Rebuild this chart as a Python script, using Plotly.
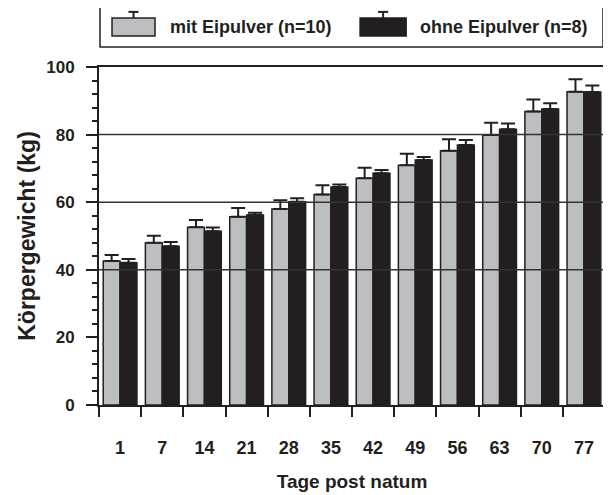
import plotly.graph_objects as go

# ---- data ----
days = ["1", "7", "14", "21", "28", "35", "42", "49", "56", "63", "70", "77"]
series_names = ["mit Eipulver (n=10)", "ohne Eipulver (n=8)"]
mit_mean = [42.6, 48.0, 52.6, 55.7, 58.0, 62.3, 67.1, 70.9, 75.2, 79.9, 86.8, 92.7]
mit_sd = [1.8, 2.1, 2.1, 2.6, 2.6, 2.7, 3.1, 3.4, 3.4, 3.6, 3.6, 3.7]
ohne_mean = [42.1, 47.0, 51.4, 56.2, 60.1, 64.5, 68.6, 72.5, 76.9, 81.6, 87.6, 92.6]
ohne_sd = [1.1, 1.2, 1.1, 0.7, 1.1, 0.7, 0.9, 0.9, 1.5, 1.7, 1.7, 1.9]
grid_values = [40, 60, 80]
x_title = "Tage post natum"
y_title = "Körpergewicht (kg)"

GRAY = "#BDBEC2"
DARK = "#231F20"
FONT = "Liberation Sans, Arial, sans-serif"

fig = go.Figure()
for name, mean, sd, color in [
    (series_names[0], mit_mean, mit_sd, GRAY),
    (series_names[1], ohne_mean, ohne_sd, DARK),
]:
    fig.add_trace(go.Bar(
        x=days, y=mean, name=name,
        marker=dict(color=color, line=dict(color=DARK, width=1.5)),
        error_y=dict(type="data", array=sd, arrayminus=[0] * len(sd),
                     symmetric=False, color=DARK, thickness=2, width=7),
        showlegend=False,
    ))

shapes = []
for g in grid_values:
    shapes.append(dict(type="line", xref="paper", yref="y", x0=0, x1=1, y0=g, y1=g,
                       line=dict(color="#333333", width=1.5), layer="above"))

# manual legend (box, swatches with error-bar glyph)
shapes.append(dict(type="rect", xref="paper", yref="paper", x0=0.002, x1=0.996,
                   y0=1.059, y1=1.183, line=dict(color=DARK, width=1.5)))
annotations = []
for (x0, x1, color, tx, name) in [
    (0.0257, 0.1107, GRAY, 0.136, series_names[0]),
    (0.516, 0.607, DARK, 0.630, series_names[1]),
]:
    xc = (x0 + x1) / 2
    shapes.append(dict(type="rect", xref="paper", yref="paper", x0=x0, x1=x1,
                       y0=1.092, y1=1.145, fillcolor=color, line=dict(color=DARK, width=1.5)))
    shapes.append(dict(type="line", xref="paper", yref="paper", x0=xc, x1=xc,
                       y0=1.145, y1=1.163, line=dict(color=DARK, width=2)))
    shapes.append(dict(type="line", xref="paper", yref="paper", x0=xc - 0.0099, x1=xc + 0.0099,
                       y0=1.163, y1=1.163, line=dict(color=DARK, width=2)))
    annotations.append(dict(xref="paper", yref="paper", x=tx, y=1.118, xanchor="left",
                            yanchor="middle", text=name, showarrow=False,
                            font=dict(family=FONT, size=18, color=DARK, weight="bold")))

# the page body adds an 8px offset, so the figure is sized to fill the rest of the window
fig.update_layout(
    width=603, height=487,
    margin=dict(l=91, r=6, t=59, b=90),
    paper_bgcolor="white", plot_bgcolor="white",
    barmode="group", bargap=0.2, bargroupgap=0,
    font=dict(family=FONT, color=DARK, weight="bold"),
    shapes=shapes, annotations=annotations,
    xaxis=dict(
        type="category", tickson="boundaries", ticks="outside", ticklen=10,
        tickwidth=1.5, tickcolor=DARK, showline=True, linecolor=DARK, linewidth=2,
        mirror=True, showgrid=False, tickfont=dict(size=18, family=FONT, weight="bold"),
        ticklabelstandoff=25, automargin=False,
        title=dict(text=x_title, font=dict(size=19, family=FONT, weight="bold"), standoff=18),
    ),
    yaxis=dict(
        range=[0, 100], dtick=20, ticks="outside", ticklen=11, tickwidth=1.5,
        tickcolor=DARK, showline=True, linecolor=DARK, linewidth=2, mirror=True,
        showgrid=False, zeroline=False, automargin=False,
        minor=dict(dtick=4, ticks="outside", ticklen=5, tickwidth=1.5, tickcolor=DARK),
        tickfont=dict(size=17, family=FONT, weight="bold"), ticklabelstandoff=8,
        title=dict(text=y_title, font=dict(size=23, family=FONT, weight="bold"), standoff=4),
    ),
)

fig.write_html("out.html")
